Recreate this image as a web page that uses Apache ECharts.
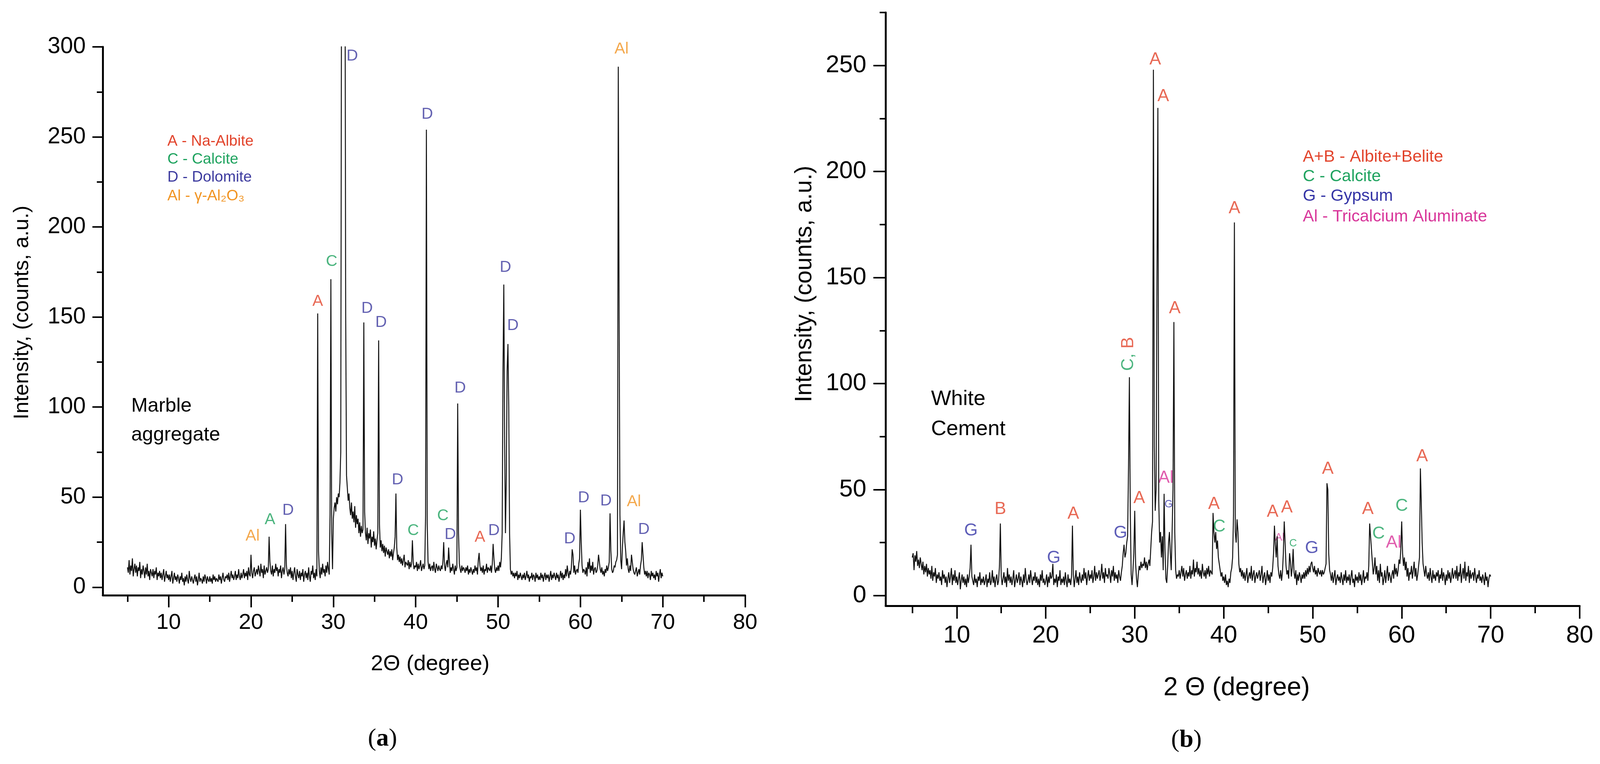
<!DOCTYPE html>
<html>
<head>
<meta charset="utf-8">
<script src="https://cdn.jsdelivr.net/npm/echarts@6/dist/echarts.min.js"></script>
<style>
  html, body { margin: 0; padding: 0; background: #fff; overflow: hidden; }
  #chart { width: 100vw; height: 100vh; }
</style>
</head>
<body>
<div id="chart"></div>
<script>
// 2-theta grid: each row is one degree, starting at 5, sampled every 0.1 deg
var startAngle = 5;

// (a) Marble aggregate, counts per 0.1 deg
var marbleRows = [
  [11,8,15,7,12,9,16,6,10,13],
  [8,12,6,11,9,14,5,10,7,12],
  [9,5,11,7,13,6,9,4,10,8],
  [6,10,5,9,7,11,4,8,6,9],
  [5,8,4,7,10,3,6,9,5,7],
  [4,7,3,6,9,2,5,8,4,6],
  [3,7,5,2,6,4,8,3,5,1],
  [6,3,7,4,2,9,5,3,6,4],
  [2,5,7,3,6,1,4,8,3,5],
  [4,2,6,3,7,5,2,6,4,3],
  [6,3,5,2,7,4,6,3,5,4],
  [3,7,4,6,2,5,8,4,3,6],
  [5,7,4,8,3,6,9,5,7,4],
  [6,9,4,7,5,10,6,4,8,5],
  [7,10,5,8,6,9,4,11,7,6],
  [18,8,5,9,11,6,8,10,7,12],
  [9,6,13,8,10,5,12,7,9,11],
  [8,10,28,14,9,7,12,6,10,8],
  [13,9,11,6,10,8,12,5,9,11],
  [7,10,35,12,8,6,10,7,11,5],
  [9,4,8,11,6,3,10,7,5,9],
  [4,8,6,10,3,7,9,5,8,4],
  [11,6,3,9,7,12,5,8,4,10],
  [6,152,20,9,5,11,7,13,8,10],
  [6,12,8,14,10,7,40,171,30,10],
  [38,44,47,42,50,46,52,50,58,75],
  [360,400,400,400,400,150,62,55,48,52],
  [44,40,47,38,42,36,45,33,40,35],
  [38,30,36,28,34,30,32,147,42,30],
  [26,33,24,30,27,32,22,28,25,31],
  [23,27,21,26,30,137,35,22,26,20],
  [24,19,23,17,22,20,18,21,16,20],
  [17,21,15,19,22,28,52,22,15,18],
  [14,17,13,16,12,15,18,11,14,13],
  [12,15,10,14,11,13,26,14,10,12],
  [11,14,9,13,10,12,15,9,11,13],
  [10,12,40,254,35,14,10,13,9,11],
  [12,9,14,10,8,13,11,9,12,10],
  [9,12,10,14,25,12,9,13,15,11],
  [22,14,8,11,9,13,10,7,12,9],
  [11,102,30,13,10,8,12,9,11,10],
  [8,11,9,12,7,10,8,11,9,7],
  [10,8,12,9,11,7,15,19,12,9],
  [11,8,12,7,10,9,13,8,11,10],
  [9,12,8,13,24,16,10,8,11,9],
  [12,9,14,11,16,30,120,168,80,30],
  [60,120,135,100,30,10,7,9,6,8],
  [5,8,6,9,4,7,5,8,6,4],
  [7,5,8,4,6,9,5,7,3,6],
  [5,8,4,7,6,3,8,5,7,4],
  [6,4,8,5,7,3,6,8,4,7],
  [5,7,3,6,9,4,7,5,8,6],
  [4,8,5,7,3,6,9,5,8,4],
  [7,5,10,6,12,8,5,9,7,11],
  [21,18,8,12,7,9,10,8,13,16],
  [43,25,12,8,10,9,7,11,6,14],
  [10,16,8,12,9,14,7,10,11,8],
  [9,12,18,14,10,8,11,7,9,6],
  [10,8,12,9,11,14,41,20,10,8],
  [9,12,11,14,15,18,289,153,40,15],
  [10,22,30,37,25,20,12,16,10,8],
  [12,9,18,14,10,8,7,9,11,6],
  [8,10,7,12,15,25,18,11,7,9],
  [6,9,5,8,7,4,9,6,8,5],
  [7,4,9,6,8,3,7,10,5,8],
  [6]
];

// (b) White cement, counts per 0.1 deg
var cementRows = [
  [18,20,12,19,16,21,14,17,13,18],
  [15,12,16,10,14,11,15,9,13,10],
  [12,8,14,7,11,9,13,6,10,8],
  [11,7,9,5,12,8,10,6,9,4],
  [8,11,6,9,13,5,10,7,12,6],
  [9,5,8,11,3,7,10,6,9,5],
  [8,4,10,6,9,13,24,9,7,5],
  [10,6,8,4,9,7,11,5,8,6],
  [9,5,7,10,4,8,6,11,5,7],
  [12,6,9,4,8,10,5,7,14,34],
  [9,5,8,11,6,9,4,13,7,10],
  [6,9,5,8,12,4,7,10,6,8],
  [11,5,9,7,4,10,6,13,8,5],
  [7,10,6,12,8,5,9,7,11,6],
  [9,5,8,4,10,7,12,6,8,5],
  [7,10,4,9,6,11,8,9,15,5],
  [8,6,10,4,9,7,12,5,8,6],
  [9,5,11,7,4,10,6,8,5,9],
  [33,10,4,8,12,6,9,5,11,8],
  [6,10,7,13,8,11,5,9,12,7],
  [10,8,12,6,9,14,7,11,8,10],
  [12,7,10,15,8,11,6,13,9,10],
  [8,13,10,6,12,9,14,7,11,8],
  [10,6,12,9,7,11,14,20,24,18],
  [20,25,28,60,103,40,10,5,12,20],
  [40,15,8,4,10,14,12,16,13,15],
  [14,18,13,16,12,15,17,14,22,30],
  [35,248,70,40,50,150,230,45,25,30],
  [18,28,12,48,22,8,6,14,25,30],
  [20,12,30,50,129,30,12,8,10,9],
  [12,8,11,14,9,13,7,10,12,8],
  [11,9,14,8,12,10,17,9,13,11],
  [16,10,13,9,12,8,15,11,9,12],
  [8,13,10,14,9,12,11,10,39,30],
  [25,30,22,26,18,15,12,9,11,7],
  [9,6,10,5,7,4,8,6,11,13],
  [18,38,176,30,25,36,30,15,11,13],
  [9,12,8,11,7,10,13,6,9,11],
  [8,14,7,10,12,6,9,11,8,10],
  [12,7,10,14,6,9,11,5,8,12],
  [7,10,6,11,9,13,20,33,24,18],
  [28,14,10,8,12,7,11,20,35,25],
  [14,10,12,8,20,16,9,13,22,11],
  [8,12,5,10,7,11,9,6,10,8],
  [11,8,12,9,13,10,14,11,15,16],
  [13,11,14,10,12,9,13,11,10,12],
  [9,12,10,11,13,15,53,50,20,12],
  [10,7,11,6,9,12,5,8,10,7],
  [9,6,11,8,5,10,7,12,6,9],
  [7,10,5,9,12,6,8,4,10,7],
  [9,6,11,7,10,5,8,12,6,9],
  [8,11,7,14,34,28,22,16,10,13],
  [18,10,14,7,12,6,15,9,11,5],
  [8,12,6,10,14,7,11,9,6,10],
  [12,8,15,10,13,9,12,17,15,22],
  [35,20,14,18,12,16,9,13,7,11],
  [10,14,8,12,16,9,13,7,10,14],
  [18,60,44,25,15,12,9,14,10,8],
  [11,7,13,9,6,12,8,10,7,11],
  [9,12,6,10,8,13,7,11,9,5],
  [10,7,12,8,11,6,9,13,8,10],
  [12,8,14,7,11,9,15,6,10,13],
  [8,16,7,11,9,14,6,12,8,10],
  [11,7,13,9,6,10,8,12,7,9],
  [6,10,8,5,11,7,9,4,8,10],
  [9]
];

// peak letters: [2theta, intensity, text, phase]
var marbleMarks = [
  [20.2, 28.4, 'Al', 'Al'], [22.3, 37.4, 'A', 'C'], [24.5, 42.6, 'D', 'D'],
  [28.1, 158.6, 'A', 'A'], [29.8, 180.7, 'C', 'C'], [32.3, 294.8, 'D', 'D'],
  [34.1, 154.7, 'D', 'D'], [35.8, 146.9, 'D', 'D'], [37.8, 59.5, 'D', 'D'],
  [39.7, 31.3, 'C', 'C'], [41.4, 262.6, 'D', 'D'], [43.3, 39.5, 'C', 'C'],
  [44.2, 29.1, 'D', 'D'], [45.4, 110.6, 'D', 'D'], [47.8, 27.6, 'A', 'A'],
  [49.5, 31.3, 'D', 'D'], [50.9, 177.5, 'D', 'D'], [51.8, 145.1, 'D', 'D'],
  [58.7, 26.7, 'D', 'D'], [60.4, 49.5, 'D', 'D'], [63.1, 47.9, 'D', 'D'],
  [65.0, 298.7, 'Al', 'Al'], [66.5, 47.4, 'Al', 'Al'], [67.7, 31.9, 'D', 'D']
];
var cementMarks = [
  [11.6, 30.6, 'G', 'G'], [14.9, 40.8, 'B', 'A'], [20.9, 17.8, 'G', 'G'],
  [23.1, 38.5, 'A', 'A'], [28.4, 29.6, 'G', 'G'], [30.5, 46, 'A', 'A'],
  [32.3, 252.8, 'A', 'A'], [33.2, 235.5, 'A', 'A'], [33.5, 55.5, 'Al', 'Al'],
  [34.5, 135.5, 'A', 'A'], [38.9, 43.2, 'A', 'A'], [39.5, 32.5, 'C', 'C'],
  [41.2, 182.5, 'A', 'A'], [45.5, 39.5, 'A', 'A'], [47.1, 41.5, 'A', 'A'],
  [49.9, 22.3, 'G', 'G'], [51.7, 59.8, 'A', 'A'], [56.2, 40.8, 'A', 'A'],
  [57.4, 29.1, 'C', 'C'], [59.1, 25, 'Al', 'Al'], [60.0, 42.3, 'C', 'C'],
  [62.3, 65.7, 'A', 'A']
];
var cementSmallMarks = [
  [33.8, 43, 'G', 'G'], [46.3, 27.3, 'Al', 'Al'], [47.8, 24.5, 'C', 'C']
];
var cementRotatedMark = [29.3, 114];

var xLabelTicks = [10, 20, 30, 40, 50, 60, 70, 80];
var xMinorTicks = [5, 15, 25, 35, 45, 55, 65, 75];
var marbleYTicks = [0, 50, 100, 150, 200, 250, 300];
var cementYTicks = [0, 50, 100, 150, 200, 250];
var yMinorTicks = [25, 75, 125, 175, 225, 275];

var FONT = '"Liberation Sans", Arial, sans-serif';
var SERIF = '"Liberation Serif", "Times New Roman", serif';
var RED = '#e2432b', GREEN = '#1fa35f', PURPLE = '#3d3b9f', ORANGE = '#f19422',
    BLUE = '#3434a6', MAGENTA = '#d8369a';
var marbleColors = { A: RED, C: GREEN, D: PURPLE, Al: ORANGE };
var cementColors = { A: RED, C: GREEN, G: BLUE, Al: MAGENTA };

// layout is designed on a 4329 x 1956 canvas and scaled to the real window
var el = document.getElementById('chart');
var sx = el.clientWidth / 4329, sy = el.clientHeight / 1956;
var sf = Math.sqrt(sx * sy);
function X(v) { return v * sx; }
function Y(v) { return v * sy; }
function F(v) { return Math.round(v * sf * 10) / 10; }

function trace(rows) {
  var out = [];
  rows.forEach(function (row, r) {
    row.forEach(function (v, j) {
      out.push([+(startAngle + r + j * 0.1).toFixed(1), v]);
    });
  });
  return out;
}

function marks(list, colors) {
  return list.map(function (m) {
    return { value: [m[0], m[1]], name: m[2], label: { color: colors[m[3]] } };
  });
}

function xAxes(grid, size, margin, major, minor) {
  var base = {
    gridIndex: grid, type: 'value', min: 2, max: 80, position: 'bottom',
    splitLine: { show: false }
  };
  return [
    Object.assign({}, base, {
      axisLine: { onZero: false, lineStyle: { color: '#000', width: F(5) } },
      axisTick: { customValues: xLabelTicks, length: Y(major), lineStyle: { color: '#000', width: F(4) } },
      axisLabel: { customValues: xLabelTicks, fontSize: F(size), margin: Y(margin), color: '#000', fontFamily: FONT }
    }),
    Object.assign({}, base, {
      axisLine: { show: false, onZero: false },
      axisTick: { customValues: xMinorTicks, length: Y(minor), lineStyle: { color: '#000', width: F(4) } },
      axisLabel: { customValues: xMinorTicks, formatter: function () { return ''; } }
    })
  ];
}

function yAxes(grid, min, max, ticks, size, margin, major, minor) {
  var base = {
    gridIndex: grid, type: 'value', min: min, max: max, position: 'left',
    splitLine: { show: false }
  };
  return [
    Object.assign({}, base, {
      axisLine: { onZero: false, lineStyle: { color: '#000', width: F(5) } },
      axisTick: { customValues: ticks, length: X(major), lineStyle: { color: '#000', width: F(4) } },
      axisLabel: { customValues: ticks, fontSize: F(size), margin: X(margin), color: '#000', fontFamily: FONT }
    }),
    Object.assign({}, base, {
      axisLine: { show: false, onZero: false },
      axisTick: { customValues: yMinorTicks, length: X(minor), lineStyle: { color: '#000', width: F(4) } },
      axisLabel: { customValues: yMinorTicks, formatter: function () { return ''; } }
    })
  ];
}

function text(x, y, str, size, color, align, rotation) {
  return {
    type: 'text', x: X(x), y: Y(y), silent: true, rotation: rotation || 0,
    style: { text: str, fill: color || '#000', font: F(size) + 'px ' + FONT,
             textAlign: align || 'left', textVerticalAlign: 'middle' }
  };
}

function caption(x, y, letter) {
  return {
    type: 'text', x: X(x), y: Y(y), silent: true,
    style: {
      text: '{p|(}{a|' + letter + '}{p|)}', textAlign: 'center', textVerticalAlign: 'middle',
      rich: { p: { font: F(66) + 'px ' + SERIF, fill: '#000' }, a: { font: 'bold ' + F(66) + 'px ' + SERIF, fill: '#000' } }
    }
  };
}

function markSeries(xi, data, size) {
  return {
    type: 'scatter', xAxisIndex: xi, yAxisIndex: xi, symbolSize: 1, silent: true,
    itemStyle: { color: 'rgba(0,0,0,0)' },
    label: { show: true, position: 'inside', fontFamily: FONT, fontSize: F(size),
             formatter: function (p) { return p.name; } },
    data: data
  };
}

var chart = echarts.init(el);
chart.setOption({
  backgroundColor: '#fff',
  animation: false,
  grid: [
    { left: X(278), top: Y(120), width: X(1738), height: Y(1404), containLabel: false, outerBoundsMode: 'none' },
    { left: X(2396), top: Y(32), width: X(1878), height: Y(1519), containLabel: false, outerBoundsMode: 'none' }
  ],
  xAxis: xAxes(0, 58, 42, 31, 17).concat(xAxes(1, 64, 46, 33, 19)),
  yAxis: yAxes(0, -4.5, 300, marbleYTicks, 60, 46, 28, 16).concat(yAxes(1, -4.8, 275, cementYTicks, 64, 52, 33, 16)),
  series: [
    {
      type: 'line', xAxisIndex: 0, yAxisIndex: 0, data: trace(marbleRows),
      showSymbol: false, symbol: 'none', clip: true,
      lineStyle: { color: '#111', width: F(2.6) }
    },
    {
      type: 'line', xAxisIndex: 2, yAxisIndex: 2, data: trace(cementRows),
      showSymbol: false, symbol: 'none', clip: true,
      lineStyle: { color: '#111', width: F(2.6) }
    },
    markSeries(0, marks(marbleMarks, marbleColors), 42),
    markSeries(2, marks(cementMarks, cementColors), 46),
    markSeries(2, marks(cementSmallMarks, cementColors), 28),
    {
      type: 'scatter', xAxisIndex: 2, yAxisIndex: 2, symbolSize: 1, silent: true,
      itemStyle: { color: 'rgba(0,0,0,0)' },
      label: {
        show: true, position: 'inside', rotate: 90, fontFamily: FONT, fontSize: F(46),
        formatter: '{c|C,} {b|B}',
        rich: { c: { color: GREEN, fontSize: F(46), fontFamily: FONT }, b: { color: RED, fontSize: F(46), fontFamily: FONT } }
      },
      data: [{ value: cementRotatedMark, name: 'C, B' }]
    }
  ],
  graphic: [
    // axis titles
    text(60, 800, 'Intensity, (counts, a.u.)', 56, '#000', 'center', Math.PI / 2),
    text(2178, 727, 'Intensity, (counts, a.u.)', 62, '#000', 'center', Math.PI / 2),
    text(1164, 1700, '2\u0398 (degree)', 58, '#000', 'center'),
    text(3346, 1762, '2 \u0398 (degree)', 68, '#000', 'center'),
    // sample names
    text(355, 1040, 'Marble', 52),
    text(355, 1114, 'aggregate', 52),
    text(2519, 1022, 'White', 56),
    text(2519, 1099, 'Cement', 56),
    // phase keys
    text(453, 362, 'A - Na-Albite', 40, RED),
    text(453, 408, 'C - Calcite', 40, GREEN),
    text(453, 454, 'D - Dolomite', 40, PURPLE),
    text(453, 502, 'Al - \u03b3-Al\u2082O\u2083', 40, ORANGE),
    text(3525, 402, 'A+B - Albite+Belite', 44, RED),
    text(3525, 452, 'C - Calcite', 44, GREEN),
    text(3525, 502, 'G - Gypsum', 44, BLUE),
    text(3525, 555, 'Al - Tricalcium Aluminate', 44, MAGENTA),
    // panel captions
    caption(1035, 1892, 'a'),
    caption(3210, 1895, 'b')
  ]
});
</script>
</body>
</html>
